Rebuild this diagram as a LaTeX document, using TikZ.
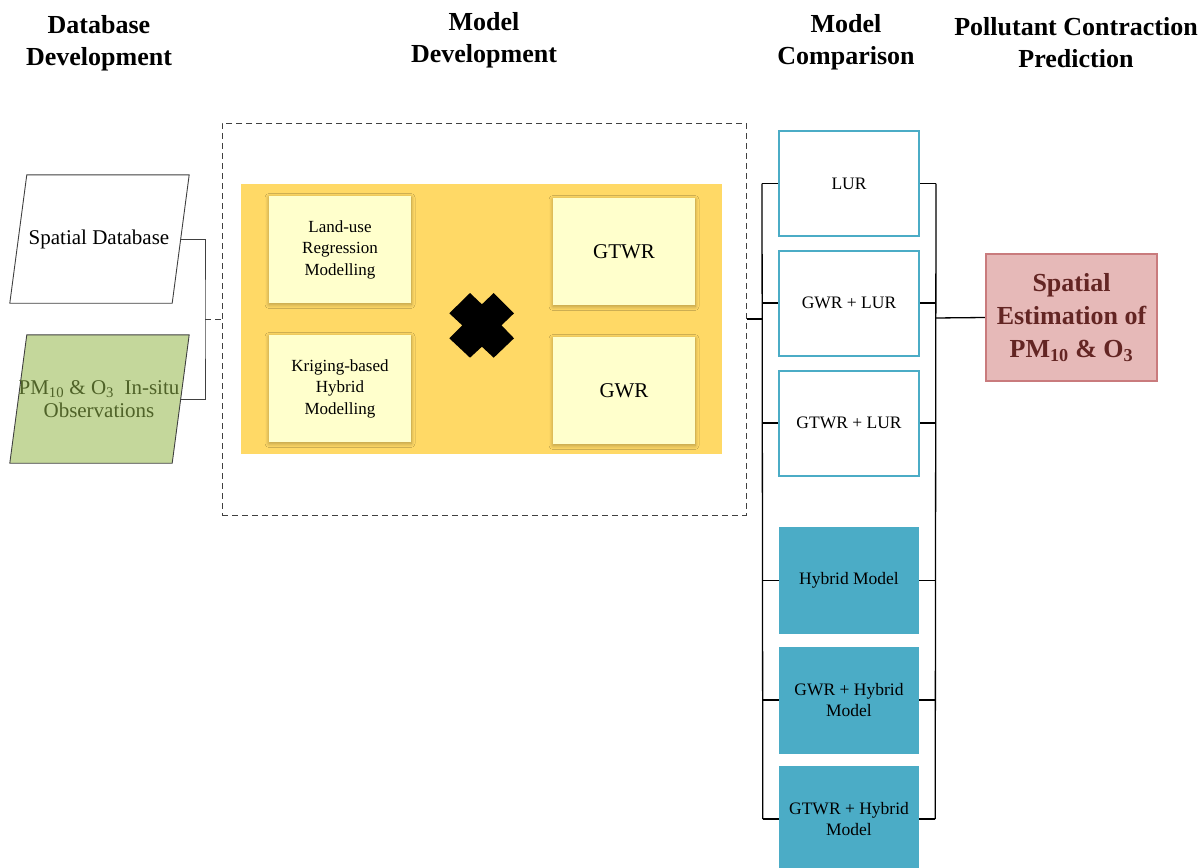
\documentclass[tikz,border=0pt]{standalone}
\usepackage{fontspec}
\setmainfont{Liberation Serif}
\usetikzlibrary{shadows.blur}
\definecolor{ybg}{HTML}{FFD966}
\definecolor{yin}{HTML}{FFFFCC}
\definecolor{teal}{HTML}{4BACC6}
\definecolor{pinkf}{HTML}{E6B9B8}
\definecolor{pinkd}{HTML}{C97B7D}
\definecolor{pinkt}{HTML}{632523}
\definecolor{greenf}{HTML}{C4D79B}
\definecolor{greent}{HTML}{4F6228}
\definecolor{lgrey}{HTML}{404040}
\tikzset{
  hdr/.style={align=center,inner sep=0pt,font=\fontsize{26}{32}\selectfont\bfseries},
  cmpbox/.style={draw=teal,line width=2pt,fill=white,minimum width=140pt,minimum height=105pt,inner sep=0pt,align=center,font=\fontsize{17.5}{21}\selectfont},
  hybbox/.style={fill=teal,minimum width=140pt,minimum height=107pt,inner sep=0pt,align=center,font=\fontsize{17.5}{21}\selectfont},
  inbox/.style={fill=yin,minimum width=142pt,minimum height=107pt,inner sep=0pt,align=center,
     blur shadow={shadow xshift=0pt,shadow yshift=-1.5pt,shadow blur radius=4pt,shadow blur steps=8,shadow opacity=30}},
  txt/.style={inner sep=0pt,align=center},
  conn/.style={line width=1.3pt,draw=black}
}
\begin{document}
\begin{tikzpicture}[x=1pt,y=-1pt]
\useasboundingbox (0,0) rectangle (1204,867);
% headers
\node[hdr] (h1) at (99,43) {Database\\Development};
\node[hdr] (h2) at (484,40) {Model\\Development};
\node[hdr] (h3) at (846,42) {Model\\Comparison};
\node[hdr] (h4) at (1076,43) {Pollutant Contraction\\Prediction};
% database parallelograms
\node[minimum width=179pt,minimum height=128pt,inner sep=0pt] (sd) at (99.5,239) {};
\draw[draw=lgrey,line width=0.9pt,fill=white] ([xshift=17pt]sd.north west) -- (sd.north east) -- ([xshift=-17pt]sd.south east) -- (sd.south west) -- cycle;
\node[txt,font=\fontsize{21}{22}\selectfont] (sdt) at (99,239) {Spatial Database};
\node[minimum width=179pt,minimum height=128pt,inner sep=0pt] (ob) at (99.5,399) {};
\draw[draw=lgrey,line width=0.9pt,fill=greenf] ([xshift=17pt]ob.north west) -- (ob.north east) -- ([xshift=-17pt]ob.south east) -- (ob.south west) -- cycle;
\node[txt,text=greent,font=\fontsize{21}{23}\selectfont] (obt) at (99,399) {PM\textsubscript{10} \& O\textsubscript{3}\ \ In-situ\\Observations};
\coordinate (sdR) at ([xshift=-8.5pt]sd.east);
\coordinate (obR) at ([xshift=-8.5pt]ob.east);
\coordinate (j1) at (205,319);
% model development
\node[draw=lgrey,dashed,dash pattern=on 6pt off 4pt,line width=1pt,minimum width=524pt,minimum height=392pt,inner sep=0pt] (dbox) at (484,319) {};
\node[fill=ybg,minimum width=481pt,minimum height=270pt,inner sep=0pt] (ybox) at (481,319) {};
\node[inbox,font=\fontsize{17}{21.5}\selectfont] (lu) at (340,249.5) {Land-use\\Regression\\Modelling};
\node[inbox,font=\fontsize{17}{21.5}\selectfont] (kr) at (340,388.5) {Kriging-based\\Hybrid\\Modelling};
\node[inbox,font=\fontsize{21}{24}\selectfont] (gt) at (624,251.5) {GTWR};
\node[inbox,font=\fontsize{21}{24}\selectfont] (gw) at (624,390.5) {GWR};
\fill[black] (449.3,313.3) -- (470,293) -- (481.9,304.3) -- (493.7,293) -- (514,313.3) -- (501.5,325.3) -- (514,338.3) -- (493.7,357.7) -- (481.9,346.7) -- (470,357.7) -- (449.3,338.3) -- (462.2,325.3) -- cycle;
% comparison
\node[cmpbox] (c1) at (849,183.5) {LUR};
\node[cmpbox] (c2) at (849,303) {GWR + LUR};
\node[cmpbox] (c3) at (849,423) {GTWR + LUR};
\node[hybbox] (c4) at (849,580.5) {Hybrid Model};
\node[hybbox] (c5) at (849,700) {GWR + Hybrid\\Model};
\node[hybbox] (c6) at (849,819) {GTWR + Hybrid\\Model};
% prediction
\node[draw=pinkd,fill=pinkf,line width=2.2pt,minimum width=171pt,minimum height=127pt,inner sep=0pt,align=center,text=pinkt,font=\fontsize{26}{33}\selectfont\bfseries] (pr) at (1071.5,317.5) {Spatial\\Estimation of\\PM\textsubscript{10} \& O\textsubscript{3}};
% connectors
\draw[line width=1pt,draw=lgrey] (sdR) -| (j1) |- (obR);
\draw[line width=1pt,draw=lgrey,dashed,dash pattern=on 6pt off 4pt] (j1) -- (dbox.west);
\coordinate (lb) at (763,319);
\coordinate (rb) at (935,318);
\draw[conn] (dbox.east) -- (lb);
\draw[conn] ([xshift=-16pt]c1.west) -- ([xshift=-16pt]c6.west);
\draw[conn] ([xshift=16pt]c1.east) -- ([xshift=16pt]c6.east);
\foreach \n in {c1,c2,c3,c4,c5,c6}{
  \draw[conn] (\n.west) -- ++(-16pt,0);
  \draw[conn] (\n.east) -- ++(16pt,0);
}
\draw[conn] (rb) -- (pr.west);
\end{tikzpicture}
\end{document}
